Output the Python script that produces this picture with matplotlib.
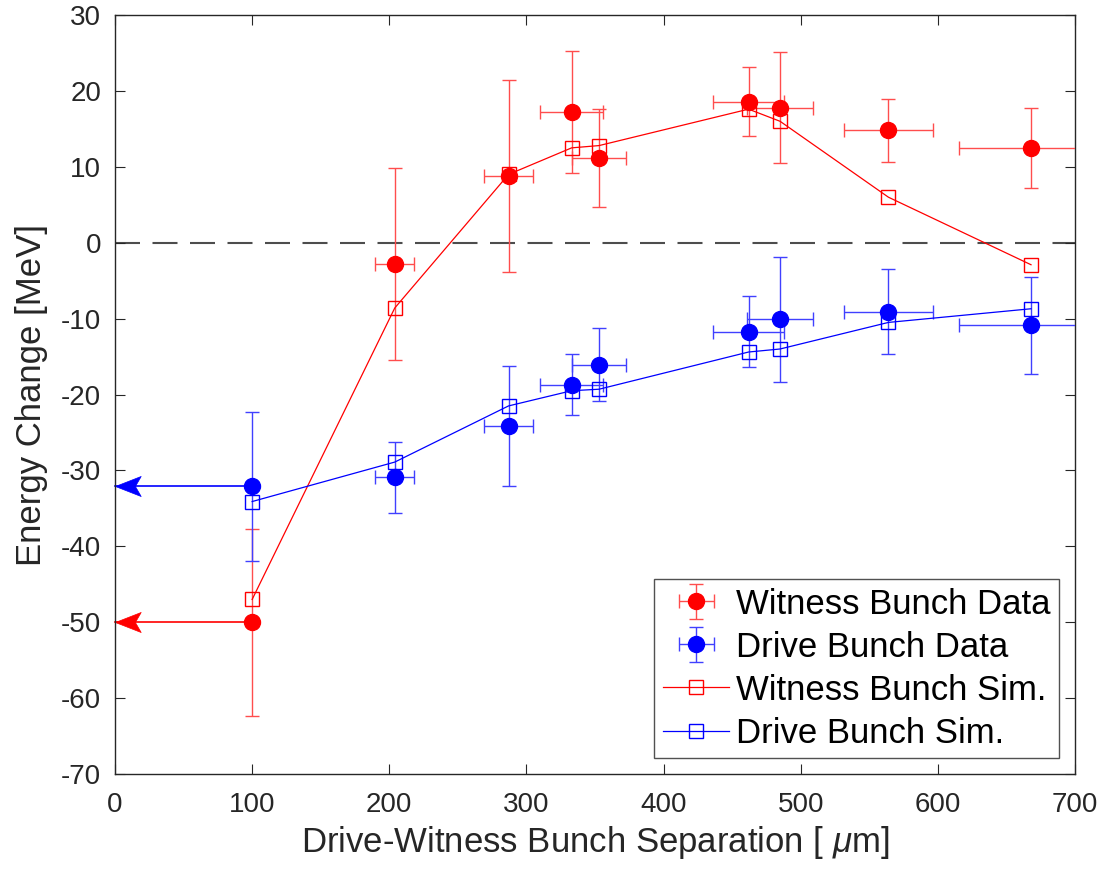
import matplotlib
matplotlib.use("Agg")
import matplotlib.pyplot as plt
from matplotlib.path import Path
import numpy as np

plt.rcParams['font.family'] = ['Liberation Sans', 'DejaVu Sans']
plt.rcParams['mathtext.fontset'] = 'custom'
plt.rcParams['mathtext.it'] = 'Liberation Sans:italic'
plt.rcParams['mathtext.rm'] = 'Liberation Sans'
plt.rcParams['axes.unicode_minus'] = False

# Separation positions [um]
sep = [100, 204, 287, 333, 353, 462, 485, 564, 668]
sep_err = [0, 14.1, 17.7, 23.1, 19.5, 25.9, 23.9, 32.2, 52.3]

# Witness bunch data [MeV]
wit_data = [-50.0, -2.8, 8.8, 17.2, 11.2, 18.6, 17.8, 14.8, 12.5]
wit_err = [12.3, 12.7, 12.7, 8.0, 6.45, 4.5, 7.3, 4.2, 5.3]
# Drive bunch data [MeV]
drv_data = [-32.1, -30.9, -24.2, -18.7, -16.1, -11.7, -10.1, -9.1, -10.9]
drv_err = [9.8, 4.7, 7.9, 4.0, 4.8, 4.7, 8.2, 5.6, 6.4]

# Simulations [MeV]
wit_sim = [-47.0, -8.6, 9.0, 12.5, 12.8, 17.6, 16.0, 6.0, -2.9]
drv_sim = [-34.1, -28.9, -21.5, -19.5, -19.3, -14.4, -14.0, -10.5, -8.7]

fig = plt.figure(figsize=(11.07, 8.69), dpi=100)
ax = fig.add_axes([0.1039, 0.1093, 0.8671, 0.8734])

red = (1, 0, 0)
blue = (0, 0, 1)

ax.axhline(0, color=(0.3, 0.3, 0.3), lw=1.5, dashes=(12, 6), zorder=1)

xerr_arr = np.array(sep_err, dtype=float)

h1 = ax.errorbar(sep, wit_data, yerr=wit_err, xerr=xerr_arr, fmt='o', color=red,
                 ms=11.5, elinewidth=1.0, capsize=5, capthick=1.0, ecolor=(1, 0.3, 0.3),
                 label='Witness Bunch Data', zorder=3)
h2 = ax.errorbar(sep, drv_data, yerr=drv_err, xerr=xerr_arr, fmt='o', color=blue,
                 ms=11.5, elinewidth=1.0, capsize=5, capthick=1.0, ecolor=(0.25, 0.25, 1),
                 label='Drive Bunch Data', zorder=3)
h3, = ax.plot(sep, wit_sim, '-s', color=red, lw=0.9, ms=9.5, mfc='none', mew=1.0,
              label='Witness Bunch Sim.', zorder=4)
h4, = ax.plot(sep, drv_sim, '-s', color=blue, lw=0.9, ms=9.5, mfc='none', mew=1.0,
              label='Drive Bunch Sim.', zorder=4)

# arrows: line from first point to the y axis with a notched arrow head
head = Path([(0, 0), (2, 0.78), (1.55, 0), (2, -0.78), (0, 0)],
            [Path.MOVETO, Path.LINETO, Path.LINETO, Path.LINETO, Path.CLOSEPOLY])
for yv, col in [(wit_data[0], red), (drv_data[0], blue)]:
    ax.plot([sep[0], 0], [yv, yv], color=col, lw=1.2, zorder=2, clip_on=False)
    ax.plot([0], [yv], marker=head, ms=37, color=col, mec=col, mew=0.5,
            zorder=2, clip_on=False)

ax.set_xlim(0, 700)
ax.set_ylim(-70, 30)
ax.set_xticks(np.arange(0, 701, 100))
ax.set_yticks(np.arange(-70, 31, 10))

axcol = (0.15, 0.15, 0.15)
for s in ax.spines.values():
    s.set_color(axcol)
    s.set_linewidth(1.0)
ax.tick_params(direction='in', length=7, width=0.8, color=axcol,
               labelcolor=axcol, labelsize=20, top=True, right=True)
ax.tick_params(axis='x', pad=13)
ax.tick_params(axis='y', pad=10)

ax.set_xlabel(r'Drive-Witness Bunch Separation [ $\mu$m]', fontsize=25, color=axcol, labelpad=4)
ax.set_ylabel('Energy Change [MeV]', fontsize=25, color=axcol, labelpad=9)

leg = ax.legend([h1, h2, h3, h4],
                ['Witness Bunch Data', 'Drive Bunch Data', 'Witness Bunch Sim.', 'Drive Bunch Sim.'],
                loc='lower right', fontsize=25, frameon=True, fancybox=False,
                edgecolor=axcol, handlelength=1.9, borderaxespad=0.45,
                labelspacing=0.29, borderpad=0.25, handletextpad=0.2)
leg.get_frame().set_linewidth(1.0)

fig.savefig('out.png', dpi=100)
